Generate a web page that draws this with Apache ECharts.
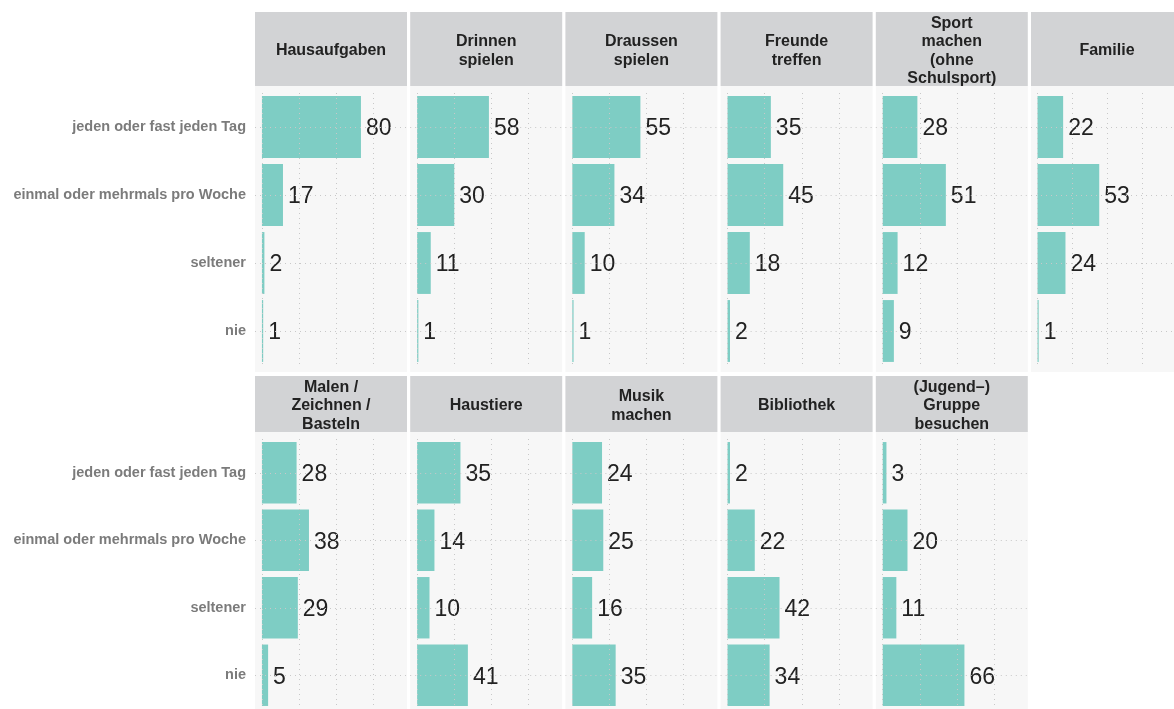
<!doctype html>
<html lang="de">
<head>
	<meta charset="UTF-8">
	<title>Freizeitaktivitäten</title>
	<script src="https://cdn.jsdelivr.net/npm/echarts@6/dist/echarts.min.js"></script>
	<style>
		html, body { margin: 0; padding: 0; width: 100%; height: 100%; background: #fff; }
		#main { width: 1174px; height: 709px; }
	</style>
</head>
<body>
	<div id="main"></div>
	<script type="text/javascript">
		// Kategorien (y-Achse)
		var categories = ['jeden oder fast jeden Tag', 'einmal oder mehrmals pro Woche', 'seltener', 'nie'];

		// Panel-Titel
		var panelTitles = [
			'Hausaufgaben', 'Drinnen\nspielen', 'Draussen\nspielen', 'Freunde\ntreffen',
			'Sport\nmachen\n(ohne\nSchulsport)', 'Familie',
			'Malen /\nZeichnen /\nBasteln', 'Haustiere', 'Musik\nmachen', 'Bibliothek',
			'(Jugend–)\nGruppe\nbesuchen'
		];

		// Werte je Panel
		var hausaufgaben = [80, 17, 2, 1];
		var drinnen = [58, 30, 11, 1];
		var draussen = [55, 34, 10, 1];
		var freunde = [35, 45, 18, 2];
		var sport = [28, 51, 12, 9];
		var familie = [22, 53, 24, 1];
		var malen = [28, 38, 29, 5];
		var haustiere = [35, 14, 10, 41];
		var musik = [24, 25, 16, 35];
		var bibliothek = [2, 22, 42, 34];
		var gruppe = [3, 20, 11, 66];

		var panelValues = [hausaufgaben, drinnen, draussen, freunde, sport, familie,
			malen, haustiere, musik, bibliothek, gruppe];

		// Gitterlinien der x-Achse
		var xTicks = [0, 30, 60, 90];

		var FONT = '"Liberation Sans", Arial, Helvetica, sans-serif';
		var myChart = echarts.init(document.getElementById('main'));

		var grids = [], xAxes = [], yAxes = [], series = [], graphics = [];
		var rows = [
			{ headTop: 12, headH: 74, bgTop: 86, bgH: 286, gridTop: 93 },
			{ headTop: 376, headH: 56, bgTop: 432, bgH: 290, gridTop: 439 }
		];

		panelValues.forEach(function (vals, i) {
			var row = i < 6 ? 0 : 1;
			var col = i < 6 ? i : i - 6;
			var left = 255 + col * 155.2;
			var w = 152;
			var r = rows[row];

			graphics.push({
				type: 'rect', z: -10, silent: true,
				shape: { x: left, y: r.headTop, width: w, height: r.headH },
				style: { fill: '#d2d3d5' }
			});
			graphics.push({
				type: 'rect', z: -10, silent: true,
				shape: { x: left, y: r.bgTop, width: w, height: r.bgH },
				style: { fill: '#f7f7f7' }
			});
			graphics.push({
				type: 'text', z: -9, silent: true,
				x: left + w / 2, y: r.headTop + r.headH / 2 + 2,
				style: {
					text: panelTitles[i],
					align: 'center', verticalAlign: 'middle',
					fontFamily: FONT, fontWeight: 'bold', fontSize: 16,
					lineHeight: 18.5, fill: '#222'
				}
			});

			grids.push({ left: left, width: w, top: r.gridTop, height: 272 });
			xAxes.push({
				type: 'value', gridIndex: i, min: -5.6, max: 117.2,
				axisLabel: { show: false }, axisLine: { show: false },
				axisTick: { show: false }, splitLine: { show: false }
			});
			yAxes.push({
				type: 'category', gridIndex: i, data: categories, inverse: true,
				axisLine: { show: false }, axisTick: { show: false },
				axisLabel: {
					show: col === 0, margin: 9, padding: [4, 0, 0, 0],
					fontFamily: FONT, fontWeight: 'bold', fontSize: 14.5, color: '#7b7b7b'
				}
			});

			// Hilfsserie für die gepunkteten Gitterlinien (hinter den Balken)
			var lines = xTicks.map(function (t) { return { xAxis: t }; })
				.concat(categories.map(function (c) { return { yAxis: c }; }));
			series.push({
				type: 'scatter', xAxisIndex: i, yAxisIndex: i, z: 1,
				data: vals, symbolSize: 0, silent: true,
				markLine: {
					silent: true, symbol: ['none', 'none'], label: { show: false },
					lineStyle: { type: [1, 4], color: '#c8c8c8', width: 1 },
					animation: false,
					data: lines
				}
			});

			series.push({
				type: 'bar', xAxisIndex: i, yAxisIndex: i, z: 3,
				data: vals, barWidth: '91%',
				itemStyle: { color: '#7ecdc4' },
				label: {
					show: true, position: 'right', distance: 5, offset: [0, 2],
					fontFamily: FONT, fontSize: 23, color: '#222'
				}
			});
		});

		var option = {
			animation: false,
			grid: grids,
			xAxis: xAxes,
			yAxis: yAxes,
			series: series,
			graphic: { elements: graphics }
		};
		myChart.setOption(option);
	</script>
</body>
</html>
